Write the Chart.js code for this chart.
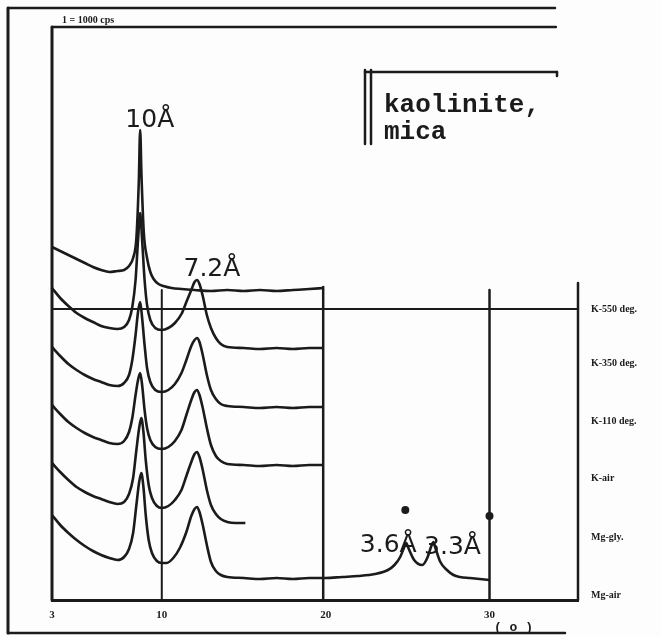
<!DOCTYPE html>
<html>
<head>
<meta charset="utf-8">
<script src="https://cdn.jsdelivr.net/npm/chart.js@4.4.1/dist/chart.umd.min.js"></script>
<style>
  html, body { margin: 0; padding: 0; background: #fdfdfd; }
  #wrap { width: 661px; height: 637px; position: relative; }
</style>
</head>
<body>
<div id="wrap"><canvas id="xrd"></canvas></div>
<script>
// diffraction traces, 2-theta (deg) vs intensity (arbitrary, stacked offsets included)
const k550Theta = [3.3,3.8,4.3,4.8,5.3,5.8,6.3,6.8,7.3,7.7,8.0,8.25,8.45,8.6,8.68,8.76,8.9,9.1,9.3,9.5,9.8,10.1,10.6,11.2,12,13,14,15,16,17,18,19,19.85];
const k550Counts = [353,349,345,341,337,333,330,328,329,330,334,342,362,420,470,425,368,342,328,321,316,314,312,311,310,309,310,309,310,309,310,311,312];

const k350Theta = [3.3,3.8,4.3,4.8,5.3,5.8,6.3,6.8,7.3,7.7,8.0,8.2,8.4,8.55,8.68,8.8,8.95,9.1,9.3,9.6,10.0,10.4,10.8,11.2,11.5,11.8,12.0,12.15,12.3,12.5,12.75,13.0,13.3,13.6,14,15,16,17,18,19,19.85];
const k350Counts = [312,302,294,287,282,278,274,272,271,273,280,293,320,360,387,360,320,295,280,272,270,272,277,286,298,310,318,320,316,304,285,272,262,256,253,252,251,252,251,252,252];

const k110Theta = [3.3,3.8,4.3,4.8,5.3,5.8,6.3,6.8,7.3,7.7,8.0,8.2,8.4,8.55,8.68,8.8,8.95,9.1,9.3,9.6,10.0,10.4,10.8,11.2,11.5,11.8,12.0,12.15,12.3,12.5,12.75,13.0,13.3,13.6,14,15,16,17,18,19,19.85];
const k110Counts = [253,244,236,230,225,221,218,215,214,217,225,240,265,288,298,282,255,232,218,210,208,210,216,227,240,254,260,262,258,245,225,210,201,196,194,193,192,193,192,193,193];

const kAirTheta = [3.3,3.8,4.3,4.8,5.3,5.8,6.3,6.8,7.3,7.7,8.0,8.2,8.4,8.55,8.68,8.8,8.95,9.1,9.3,9.6,10.0,10.4,10.8,11.2,11.5,11.8,12.0,12.15,12.3,12.5,12.75,13.0,13.3,13.6,14,15,16,17,18,19,19.85];
const kAirCounts = [195,186,178,172,167,163,160,157,156,159,168,182,205,220,227,215,190,172,160,153,151,153,159,170,185,200,208,210,205,192,172,155,144,139,136,135,134,135,134,135,135];

const mgGlyTheta = [3.3,3.8,4.3,4.8,5.3,5.8,6.3,6.8,7.3,7.7,8.0,8.25,8.45,8.62,8.75,8.88,9.02,9.2,9.4,9.7,10.0,10.4,10.8,11.2,11.5,11.8,12.0,12.15,12.3,12.5,12.75,13.0,13.3,13.6,14,14.5,15.1];
const mgGlyCounts = [137,128,120,113,108,104,101,98,96,98,106,122,150,172,182,168,140,115,102,94,92,94,100,110,124,138,146,148,143,130,110,95,86,81,78,77,77];

const mgAirTheta = [3.3,3.8,4.3,4.8,5.3,5.8,6.3,6.8,7.3,7.7,8.0,8.25,8.45,8.62,8.75,8.88,9.02,9.2,9.4,9.7,10.0,10.3,10.7,11.1,11.5,11.8,12.0,12.15,12.3,12.5,12.75,13.0,13.3,13.6,14,15,16,17,18,19,20,21,22,23,23.8,24.2,24.55,24.8,24.92,25.05,25.4,25.9,26.2,26.45,26.57,26.7,27.0,27.4,27.8,28.2,28.8,29.4,30.0];
const mgAirCounts = [85,75,67,60,54,49,45,42,40,43,51,67,95,118,127,113,85,60,47,39,37,37,42,52,68,84,91,93,88,75,55,38,29,25,23,22,21,22,21,22,22,23,24,26,30,35,43,53,57,52,40,35,42,54,58,52,38,30,25,23,22,21,20];

const traceNames = ['K-550 deg.', 'K-350 deg.', 'K-110 deg.', 'K-air', 'Mg-gly.', 'Mg-air'];
const traceLevels = [291, 237, 179, 122, 63, 5]; // intensity of each trace's right-hand label
const tickValues = [3.3, 10, 20, 30];
const tickLabels = ['3', '10', '20', '30'];

const ink = '#1b1b1b';

function pts(t, c) { return t.map((v, i) => ({ x: v, y: c[i] })); }

const series = [
  pts(k550Theta, k550Counts), pts(k350Theta, k350Counts), pts(k110Theta, k110Counts),
  pts(kAirTheta, kAirCounts), pts(mgGlyTheta, mgGlyCounts), pts(mgAirTheta, mgAirCounts)
];

// frame lines, peak labels etc. (drawn on top through the scales)
const decor = {
  id: 'decor',
  afterDatasetsDraw(chart) {
    const c = chart.ctx, xs = chart.scales.x, ys = chart.scales.y;
    const X = v => xs.getPixelForValue(v), Y = v => ys.getPixelForValue(v);
    c.save();
    c.strokeStyle = ink;
    c.lineCap = 'round';
    function seg(x1, y1, x2, y2, w) {
      c.lineWidth = w || 2.5;
      c.beginPath(); c.moveTo(x1, y1); c.lineTo(x2, y2); c.stroke();
    }
    // outer scan frame
    seg(8, 8, 8, 633, 3);
    seg(8, 8, 555, 8, 2.5);
    seg(8, 633, 565, 633, 2.5);
    // plot frame
    seg(X(xs.min), Y(ys.max), X(xs.min), Y(0), 3);
    seg(X(xs.min), Y(ys.max), X(34.05), Y(ys.max), 2.5);
    seg(X(xs.max), Y(317), X(xs.max), Y(0), 2.5);
    // baseline of the upper record + divisions
    seg(X(xs.min), Y(291), X(xs.max), Y(291), 2);
    seg(X(10), Y(310), X(10), Y(0), 2);
    seg(X(19.85), Y(313), X(19.85), Y(0), 2.5);
    seg(X(30), Y(310), X(30), Y(0), 2.5);

    // legend box
    seg(365, 70, 365, 144, 2.5);
    seg(371, 70, 371, 144, 2.5);
    seg(365, 72, 557, 72, 2.5);
    seg(557, 72, 557, 76, 2.5);
    c.fillStyle = ink;
    c.font = 'bold 26px "Liberation Mono", "DejaVu Sans Mono", monospace';
    c.textBaseline = 'alphabetic';
    c.textAlign = 'left';
    c.fillText('kaolinite,', 384, 112);
    c.fillText('mica', 384, 139);

    // peak d-spacings
    c.font = '25px "DejaVu Sans", sans-serif';
    c.textAlign = 'center';
    c.fillText('10Å', X(9.27), Y(473));
    c.fillText('7.2Å', X(13.06), Y(324));
    c.fillText('3.6Å', X(23.82), Y(48));
    c.fillText('3.3Å', X(27.74), Y(46));
    // mineral markers
    [[24.86, 90], [30.0, 84]].forEach(p => {
      c.beginPath(); c.arc(X(p[0]), Y(p[1]), 4, 0, Math.PI * 2); c.fill();
    });

    // sample labels
    c.font = 'bold 10px "Liberation Serif", serif';
    c.textAlign = 'left';
    c.textBaseline = 'middle';
    traceNames.forEach((n, i) => c.fillText(n, 591, Y(traceLevels[i])));

    // top note and axis unit
    c.font = 'bold 10px "Liberation Serif", serif';
    c.textBaseline = 'alphabetic';
    c.fillText('1 = 1000 cps', 62, 23);
    c.font = 'bold 13px "Liberation Mono", monospace';
    c.fillText('( o )', 494, 631);
    c.restore();
  }
};

new Chart(document.getElementById('xrd'), {
  type: 'line',
  data: {
    datasets: series.map((s, i) => ({
      label: traceNames[i],
      data: s,
      borderColor: ink,
      borderWidth: 2.6,
      pointRadius: 0,
      fill: false,
      cubicInterpolationMode: 'monotone'
    }))
  },
  plugins: [decor],
  options: {
    responsive: true,
    maintainAspectRatio: false,
    animation: false,
    layout: { padding: { left: 52, top: 27, right: 83, bottom: 0 } },
    plugins: { legend: { display: false }, tooltip: { enabled: false } },
    scales: {
      x: {
        type: 'linear',
        min: 3.3,
        max: 35.4,
        afterFit: s => { s.height = 37; },
        afterBuildTicks: s => { s.ticks = tickValues.map(v => ({ value: v })); },
        grid: { display: false, drawTicks: false },
        border: { display: true, color: ink, width: 3 },
        ticks: {
          padding: 9,
          color: ink,
          font: { family: '"Liberation Serif", serif', size: 11, weight: 'bold' },
          callback: v => tickLabels[tickValues.indexOf(v)]
        }
      },
      y: {
        display: false,
        min: 0,
        max: 573
      }
    }
  }
});
</script>
</body>
</html>
